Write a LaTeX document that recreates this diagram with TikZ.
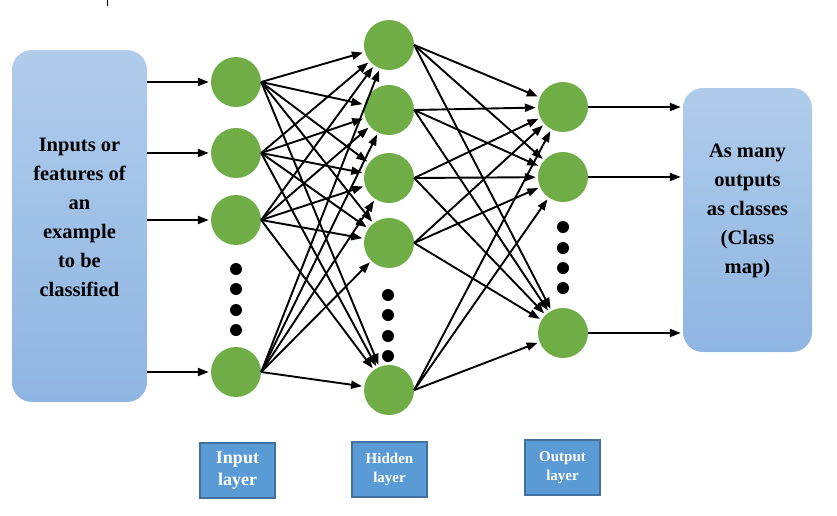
\documentclass[tikz,border=0pt]{standalone}
\usepackage{fontspec}
\setmainfont{Liberation Serif}
\usetikzlibrary{arrows.meta, positioning}
\definecolor{NeuronGreen}{RGB}{112,173,71}
\definecolor{BoxTop}{RGB}{176,204,235}
\definecolor{BoxBottom}{RGB}{143,181,226}
\definecolor{LabelBlue}{RGB}{91,155,213}
\definecolor{LabelEdge}{RGB}{65,113,156}

\tikzset{
  neuron/.style={circle, fill=NeuronGreen, minimum size=50pt, inner sep=0pt},
  dotmark/.style={circle, fill=black, minimum width=11pt, minimum height=12pt, inner sep=0pt},
  sidebox/.style={rounded corners=20pt, top color=BoxTop, bottom color=BoxBottom, draw=none},
  sidetext/.style={align=center, font=\bfseries\fontsize{20.5}{29}\selectfont},
  layerbox/.style={draw=LabelEdge, line width=1.2pt, fill=LabelBlue, minimum width=75pt, minimum height=55pt, text=white, align=center},
  link/.style={-{Triangle[length=11pt,width=8pt]}, line width=1.9pt, shorten >=2pt}
}

\begin{document}
\begin{tikzpicture}[x=1pt, y=-1pt]
  \useasboundingbox (0,0) rectangle (837,515);
  \draw[line width=1pt] (107,0) -- (107,6);

  \node[sidebox, minimum width=135pt, minimum height=352pt] (inbox) at (79.5,226) {};
  \node[sidetext] (intext) at (79.5,217) {Inputs or\\features of\\an\\example\\to be\\classified};
  \node[sidebox, minimum width=129pt, minimum height=264pt] (outbox) at (747.5,220) {};
  \node[sidetext] (outtext) at (747.5,211) {As many\\outputs\\as classes\\(Class\\map)};

  \foreach \n/\y in {1/82,2/153,3/220,4/372}
    \node[neuron] (i\n) at (236,\y) {};
  \foreach \n/\y in {1/45,2/110,3/178,4/243,5/390}
    \node[neuron] (h\n) at (389,\y) {};
  \foreach \n/\y in {1/107,2/177,3/333}
    \node[neuron] (o\n) at (563,\y) {};

  \foreach \k/\y in {a/269,b/289,c/310,d/330}
    \node[dotmark] (di\k) at (236,\y) {};
  \foreach \k/\y in {a/295,b/315,c/336,d/356}
    \node[dotmark] (dh\k) at (388,\y) {};
  \foreach \k/\y in {a/227,b/248,c/268,d/288}
    \node[dotmark] (do\k) at (563,\y) {};

  \foreach \n in {1,...,4}
    \draw[link] (inbox.east |- i\n) -- (i\n);
  \foreach \a in {1,...,4}
    \foreach \b in {1,...,5}
      \draw[link] (i\a.east) -- (h\b);
  \foreach \a in {1,...,5}
    \foreach \b in {1,2,3}
      \draw[link] (h\a.east) -- (o\b);
  \foreach \n in {1,2,3}
    \draw[link] (o\n) -- (outbox.west |- o\n);

  \node[layerbox, font=\bfseries\fontsize{18}{22}\selectfont] (inlabel) at (237.5,470.5) {Input\\layer};
  \node[layerbox, font=\bfseries\fontsize{15}{19}\selectfont] (hidlabel) at (389.5,469.5) {Hidden\\layer};
  \node[layerbox, font=\bfseries\fontsize{15}{19}\selectfont] (outlabel) at (562.5,467.5) {Output\\layer};
\end{tikzpicture}
\end{document}
